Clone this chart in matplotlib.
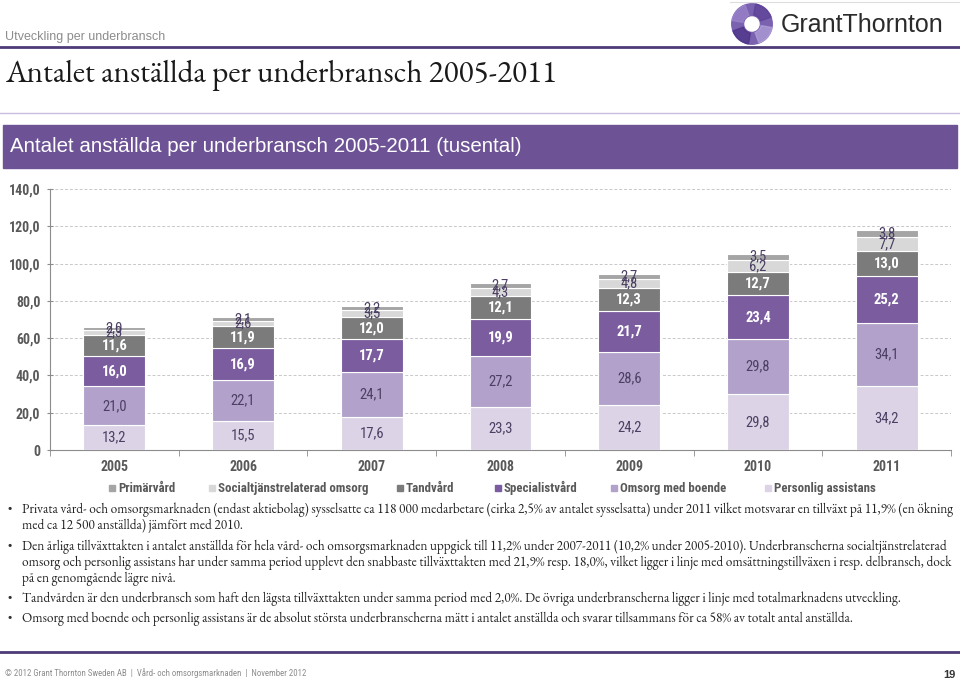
import numpy as np
import matplotlib
matplotlib.use("Agg")
import matplotlib.pyplot as plt
from matplotlib.patches import Rectangle, Circle, Wedge

# data (tusental)
years = ["2005", "2006", "2007", "2008", "2009", "2010", "2011"]
personlig = [13.2, 15.5, 17.6, 23.3, 24.2, 29.8, 34.2]
omsorg_boende = [21.0, 22.1, 24.1, 27.2, 28.6, 29.8, 34.1]
specialist = [16.0, 16.9, 17.7, 19.9, 21.7, 23.4, 25.2]
tandvard = [11.6, 11.9, 12.0, 12.1, 12.3, 12.7, 13.0]
socialtj = [2.3, 2.6, 3.5, 4.3, 4.8, 6.2, 7.7]
primarvard = [2.0, 2.1, 2.2, 2.7, 2.7, 3.5, 3.8]

# stacking order, bottom -> top
series = [
    ("Personlig assistans", personlig, "#dcd4e6", "#4b3f63", False),
    ("Omsorg med boende", omsorg_boende, "#b2a2cb", "#4b3f63", False),
    ("Specialistvård", specialist, "#7a5c9f", "white", True),
    ("Tandvård", tandvard, "#7b7b7b", "white", True),
    ("Socialtjänstrelaterad omsorg", socialtj, "#d8d8d8", "#4b3f63", False),
    ("Primärvård", primarvard, "#a5a5a5", "#4b3f63", False),
]
legend_order = ["Primärvård", "Socialtjänstrelaterad omsorg", "Tandvård",
                "Specialistvård", "Omsorg med boende", "Personlig assistans"]
legend_x = [112, 212, 400, 498, 614, 768]

W, H = 960, 679
fig = plt.figure(figsize=(W / 100, H / 100), dpi=100)

def fx(x):
    return x / W

def fy(y):
    return 1 - y / H

narrow = ["Roboto Condensed", "Archivo Narrow", "Liberation Sans Narrow", "Liberation Sans", "DejaVu Sans"]
serif = ["EB Garamond", "Liberation Serif", "DejaVu Serif"]
sans = ["Liberation Sans", "DejaVu Sans"]
purple = "#6d5396"

# header
fig.text(fx(5), fy(37), "Utveckling per underbransch", fontsize=9, color="#8c8c8c",
         family=sans, va="center")
fig.add_artist(plt.Line2D([0, 1], [fy(47), fy(47)], color="#4e3b78", lw=2))
fig.text(fx(5), fy(75), "Antalet anställda per underbransch 2005-2011", fontsize=22.5,
         color="#1a1a1a", family=serif, va="center")
fig.add_artist(plt.Line2D([0, 1], [fy(113), fy(113)], color="#c9bde0", lw=1))
fig.add_artist(plt.Line2D([fx(730), 1], [fy(2), fy(2)], color="#dddddd", lw=0.8))

# logo
lax = fig.add_axes([fx(720), fy(46), fx(64), 44 / H])
lax.set_xlim(-1, 1)
lax.set_ylim(-1, 1)
lax.set_aspect("equal")
lax.axis("off")
lax.add_patch(Circle((0, 0), 0.92, color="#7b62b0"))
for k, c in enumerate(["#5b3f95", "#9c86cc", "#4a2f85", "#b3a3dc"]):
    lax.add_patch(Wedge((0, 0), 0.92, 90 * k + 20, 90 * k + 80, width=0.5, color=c, alpha=0.7))
lax.add_patch(Circle((0, 0), 0.32, color="white"))
fig.text(fx(781), fy(25), "GrantThornton", fontsize=18, color="#2b2b2b",
         family=sans, va="center")

# chart title bar
fig.add_artist(Rectangle((fx(3), fy(168)), fx(954), 43 / H, color=purple,
                         transform=fig.transFigure))
fig.text(fx(10), fy(147), "Antalet anställda per underbransch 2005-2011 (tusental)",
         fontsize=14.8, color="white", family=sans, va="center")

# chart
ax = fig.add_axes([fx(50), fy(450), fx(901), (450 - 189) / H])
x = np.arange(len(years))
bottom = np.zeros(len(years))
colors = {}
for name, vals, col, tcol, bold in series:
    colors[name] = col
    vals = np.array(vals)
    ax.bar(x, vals, 0.48, bottom=bottom, color=col, edgecolor="white", linewidth=0.8,
           label=name, zorder=3)
    for xi, b, v in zip(x, bottom, vals):
        ax.text(xi, b + v / 2, f"{v:.1f}".replace(".", ","), ha="center", va="center",
                fontsize=10.5, color=tcol, fontweight="bold" if bold else "normal",
                family=narrow, zorder=4)
    bottom += vals

ax.set_xlim(-0.5, len(years) - 0.5)
ax.set_ylim(0, 140)
ax.set_yticks(np.arange(0, 141, 20))
ax.set_yticklabels(["0"] + [f"{v},0" for v in range(20, 141, 20)], family=narrow,
                   fontsize=10, fontweight="bold", color="#595959")
ax.grid(axis="y", linestyle=(0, (3, 2)), color="#c8c8c8", linewidth=0.7, zorder=0)
ax.set_xticks(x)
ax.set_xticklabels(years, family=narrow, fontsize=10, fontweight="bold", color="#595959")
ax.tick_params(axis="x", length=0, pad=7)
ax.set_xticks(np.arange(-0.5, len(years), 1), minor=True)
ax.tick_params(axis="x", which="minor", length=4, color="#8c8c8c")
ax.tick_params(axis="y", length=4, color="#8c8c8c", direction="inout", pad=5)
for s in ["top", "right"]:
    ax.spines[s].set_visible(False)
for s in ["left", "bottom"]:
    ax.spines[s].set_color("#8c8c8c")

# legend, placed entry by entry
for name, lx in zip(legend_order, legend_x):
    fig.add_artist(Rectangle((fx(lx - 3), fy(491)), fx(6), 6 / H, color=colors[name],
                             transform=fig.transFigure))
    fig.text(fx(lx + 6), fy(492), name, fontsize=9.3, fontweight="bold", color="#595959",
             family=narrow, va="baseline")

# bullet text
bullets = [
    (510, ["Privata vård- och omsorgsmarknaden (endast aktiebolag) sysselsatte ca 118 000 medarbetare (cirka 2,5% av antalet sysselsatta) under 2011 vilket motsvarar en tillväxt på 11,9% (en ökning",
           "med ca 12 500 anställda) jämfört med 2010."]),
    (547, ["Den årliga tillväxttakten i antalet anställda för hela vård- och omsorgsmarknaden uppgick till 11,2% under 2007-2011 (10,2% under 2005-2010). Underbranscherna socialtjänstrelaterad",
           "omsorg och personlig assistans har under samma period upplevt den snabbaste tillväxttakten med 21,9% resp. 18,0%, vilket ligger i linje med omsättningstillväxen i resp. delbransch, dock",
           "på en genomgående lägre nivå."]),
    (599, ["Tandvården är den underbransch som haft den lägsta tillväxttakten under samma period med 2,0%. De övriga underbranscherna ligger i linje med totalmarknadens utveckling."]),
    (619, ["Omsorg med boende och personlig assistans är de absolut största underbranscherna mätt i antalet anställda och svarar tillsammans för ca 58% av totalt antal anställda."]),
]
for y0, lines in bullets:
    fig.text(fx(8), fy(y0), "•", fontsize=9, color="#333333", family=serif, va="center")
    for i, ln in enumerate(lines):
        fig.text(fx(22), fy(y0 + i * 16), ln, fontsize=9.6, color="#222222",
                 family=serif, va="center")

# footer
fig.add_artist(plt.Line2D([0, 1], [fy(652), fy(652)], color="#4e3b78", lw=2))
fig.text(fx(5), fy(673), "© 2012 Grant Thornton Sweden AB  |  Vård- och omsorgsmarknaden  |  November 2012",
         fontsize=6.3, color="#8c8c8c", family=narrow, va="center")
fig.text(fx(955), fy(675), "19", fontsize=8, color="#333333", fontweight="bold",
         family=sans, va="center", ha="right")

fig.savefig("out.png", dpi=100)
